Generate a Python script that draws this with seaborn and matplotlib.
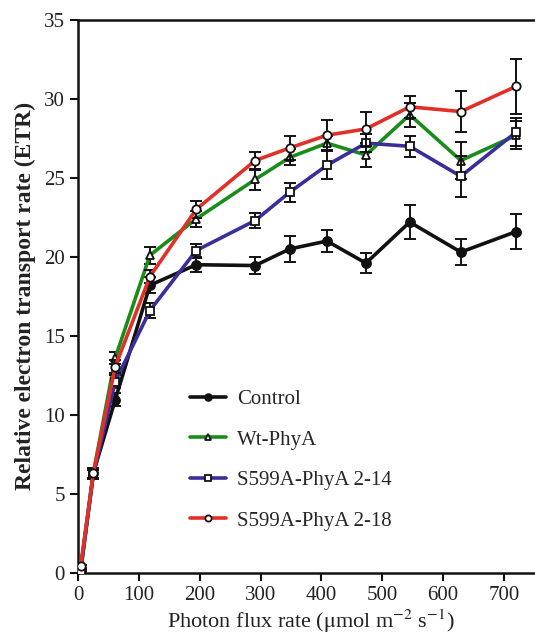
import matplotlib
matplotlib.use("Agg")
import matplotlib.pyplot as plt
import pandas as pd
import seaborn as sns

PAR = [4, 25, 61, 118, 194, 291, 348, 409, 473, 545, 629, 720]

control = [0.1, 6.3, 10.95, 18.2, 19.5, 19.45, 20.5, 21.0, 19.6, 22.2, 20.3, 21.6]
control_err = [0.1, 0.3, 0.4, 0.5, 0.45, 0.55, 0.85, 0.7, 0.65, 1.1, 0.8, 1.1]

wt = [0.2, 6.3, 13.6, 20.1, 22.4, 24.9, 26.3, 27.2, 26.45, 29.0, 26.1, 27.7]
wt_err = [0.1, 0.3, 0.4, 0.55, 0.5, 0.65, 0.5, 0.45, 0.75, 0.75, 1.15, 0.9]

s214 = [0.1, 6.2, 12.1, 16.6, 20.4, 22.3, 24.1, 25.8, 27.2, 27.0, 25.1, 27.9]
s214_err = [0.1, 0.3, 0.4, 0.45, 0.4, 0.45, 0.6, 0.9, 0.55, 0.65, 1.3, 0.9]

s218 = [0.4, 6.3, 13.05, 18.75, 23.0, 26.1, 26.9, 27.7, 28.1, 29.5, 29.2, 30.8]
s218_err = [0.1, 0.3, 0.4, 0.4, 0.55, 0.57, 0.78, 0.95, 1.05, 0.7, 1.3, 1.75]

SERIES = [
    ("Control", control, control_err, "#111111", "o", "#111111", 6.5),
    ("Wt-PhyA", wt, wt_err, "#1a8c1a", "^", "white", 5.5),
    ("S599A-PhyA 2-14", s214, s214_err, "#3a2f9a", "s", "white", 5.5),
    ("S599A-PhyA 2-18", s218, s218_err, "#e03028", "o", "white", 6),
]

sns.set_theme(style="ticks")
plt.rcParams["font.family"] = ["Liberation Serif", "DejaVu Serif"]
plt.rcParams["mathtext.fontset"] = "stix"

fig = plt.figure(figsize=(5.35, 6.38), dpi=100)
ax = fig.add_axes([0.146, 0.1024, 0.87, 0.8663])

for i, (name, vals, err, color, marker, face, size) in enumerate(SERIES):
    df = pd.DataFrame({"PAR": PAR, "ETR": vals})
    ax.errorbar(PAR, vals, yerr=err, fmt="none", ecolor="#111111",
                elinewidth=1.4, capsize=4.5, capthick=1.4, zorder=2 + i)
    sns.lineplot(data=df, x="PAR", y="ETR", ax=ax, color=color, linewidth=2.6,
                 marker=marker, markersize=size, markerfacecolor=face,
                 markeredgecolor="#111111", markeredgewidth=1.3,
                 label=name, zorder=3 + i)

ax.set_xlim(0, 765)
ax.set_ylim(0, 35)
ax.set_xticks(range(0, 800, 100))
ax.set_yticks(range(0, 40, 5))
ax.tick_params(labelsize=15, length=6, width=1.5, color="#111111", labelcolor="#222222")
for side in ["left", "bottom", "top"]:
    ax.spines[side].set_linewidth(1.8)
    ax.spines[side].set_color("#111111")
ax.spines["right"].set_visible(False)

ax.set_xlabel(r"Photon flux rate ($\mathrm{\mu}$mol m$^{\mathrm{-2}}$ s$^{\mathrm{-1}}$)",
              fontsize=16, color="#222222", labelpad=2)
ax.set_ylabel("Relative electron transport rate (ETR)", fontsize=17,
              fontweight="bold", color="#222222", labelpad=6)

leg = ax.legend(loc="upper left", bbox_to_anchor=(0.2, 0.365), frameon=False,
                fontsize=15, handlelength=1.75, labelspacing=1.0, handletextpad=0.5,
                markerscale=0.75)

fig.savefig("out.png", dpi=100)
